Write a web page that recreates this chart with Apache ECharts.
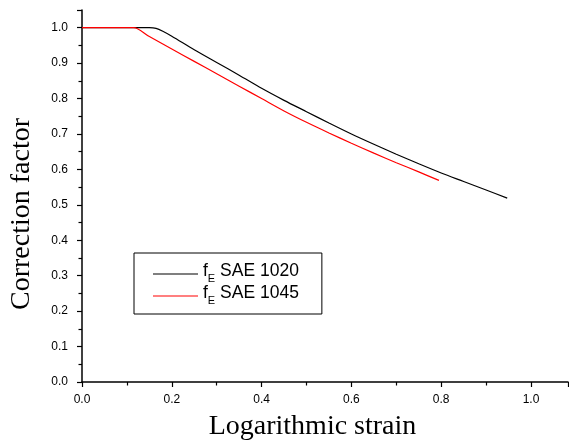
<!DOCTYPE html>
<html>
<head>
<meta charset="utf-8">
<script src="https://cdn.jsdelivr.net/npm/echarts@6/dist/echarts.min.js"></script>
<style>html,body{margin:0;padding:0;background:#fff}#c{width:569px;height:442px}</style>
</head>
<body>
<div id="c"></div>
<script>
var strain1020 = [0, 0.05, 0.10, 0.15, 0.165, 0.18, 0.20, 0.25, 0.30, 0.35, 0.40, 0.45, 0.50, 0.55, 0.60, 0.65, 0.70, 0.75, 0.80, 0.85, 0.90, 0.947];
var factor1020 = [1.0, 1.0, 1.0, 1.0, 0.998, 0.99, 0.976, 0.938, 0.902, 0.866, 0.829, 0.795, 0.763, 0.731, 0.700, 0.671, 0.643, 0.616, 0.590, 0.566, 0.542, 0.519];
var strain1045 = [0, 0.05, 0.10, 0.115, 0.15, 0.20, 0.25, 0.30, 0.35, 0.40, 0.45, 0.50, 0.55, 0.60, 0.65, 0.70, 0.75, 0.795];
var factor1045 = [1.0, 1.0, 1.0, 1.0, 0.975, 0.940, 0.905, 0.870, 0.835, 0.800, 0.765, 0.733, 0.703, 0.674, 0.646, 0.619, 0.593, 0.569];
var seriesNames = ['SAE 1020', 'SAE 1045'];
var xTitle = 'Logarithmic strain';
var yTitle = 'Correction factor';

function pairs(xs, ys) { return xs.map(function (x, i) { return [x, ys[i]]; }); }

var chart = echarts.init(document.getElementById('c'), null, { renderer: 'canvas' });
var axisCommon = {
  axisLine: { show: true, onZero: false, lineStyle: { color: '#000', width: 1.5 } },
  axisTick: { show: true, inside: false, length: 5, lineStyle: { color: '#000', width: 1.2 } },
  minorTick: { show: true, splitNumber: 2, length: 3.5, lineStyle: { color: '#000', width: 1.2 } },
  splitLine: { show: false },
  minorSplitLine: { show: false }
};
chart.setOption({
  animation: false,
  backgroundColor: '#fff',
  grid: { left: 82, top: 10, right: 1, bottom: 60, containLabel: false, outerBoundsMode: 'none' },
  xAxis: Object.assign({
    type: 'value', min: 0, max: 1.0824, interval: 0.2,
    name: xTitle, nameLocation: 'middle', nameGap: 31,
    nameTextStyle: { fontFamily: 'Liberation Serif', fontSize: 28, color: '#000', padding: [0, 25, 0, 0] },
    axisLabel: { color: '#000', fontFamily: 'Liberation Sans', fontSize: 12, margin: 12, showMaxLabel: false,
      formatter: function (v) { return v.toFixed(1); } }
  }, axisCommon),
  yAxis: Object.assign({
    type: 'value', min: 0, max: 1.05, interval: 0.1,
    name: yTitle, nameLocation: 'middle', nameGap: 46, nameRotate: 90,
    nameTextStyle: { fontFamily: 'Liberation Serif', fontSize: 28, color: '#000', padding: [0, 36, 0, 0] },
    axisLabel: { color: '#000', fontFamily: 'Liberation Sans', fontSize: 12, margin: 14, showMaxLabel: false,
      formatter: function (v) { return v.toFixed(1); } }
  }, axisCommon),
  legend: {
    orient: 'vertical', left: 134, top: 253,
    padding: [7, 23, 8, 19], itemGap: -2, itemWidth: 45, itemHeight: 1.2, itemTextGap: 5,
    icon: 'rect',
    borderColor: '#000', borderWidth: 1, backgroundColor: '#fff',
    data: seriesNames,
    formatter: function (n) { return '{f|f}{sub|E}{t| ' + n + '}'; },
    textStyle: {
      color: '#000',
      rich: {
        f: { fontFamily: 'Liberation Sans', fontSize: 17.5, lineHeight: 20, verticalAlign: 'bottom', padding: [2, 0, 4, 0] },
        sub: { fontFamily: 'Liberation Sans', fontSize: 11, lineHeight: 10, verticalAlign: 'bottom' },
        t: { fontFamily: 'Liberation Sans', fontSize: 17.5, lineHeight: 20, verticalAlign: 'bottom', padding: [2, 0, 4, 0] }
      }
    }
  },
  series: [
    { name: seriesNames[0], type: 'line', data: pairs(strain1020, factor1020), symbol: 'none', smooth: 0.3,
      lineStyle: { color: '#000', width: 1.2 }, itemStyle: { color: '#000' } },
    { name: seriesNames[1], type: 'line', data: pairs(strain1045, factor1045), symbol: 'none', smooth: 0.3,
      lineStyle: { color: '#ff0000', width: 1.2 }, itemStyle: { color: '#ff0000' } }
  ]
});
</script>
</body>
</html>
